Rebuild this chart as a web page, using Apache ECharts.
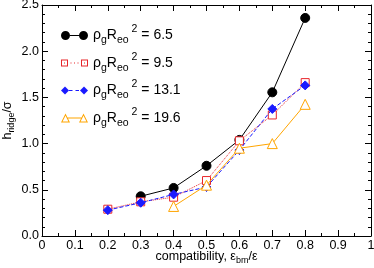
<!DOCTYPE html>
<html><head><meta charset="utf-8">
<script src="https://cdn.jsdelivr.net/npm/echarts@6/dist/echarts.min.js"></script>
<style>html,body{margin:0;padding:0;background:#fff}#c{width:374px;height:268px}</style>
</head><body><div id="c"></div>
<script>
var FONT = '"Liberation Sans", Arial, sans-serif';
var seriesNames = ['6.5', '9.5', '13.1', '19.6'];
var blackX = [0.3, 0.4, 0.5, 0.6, 0.7, 0.8];
var blackY = [0.43, 0.52, 0.76, 1.04, 1.555, 2.36];
var redX = [0.2, 0.3, 0.4, 0.5, 0.6, 0.7, 0.8];
var redY = [0.29, 0.37, 0.42, 0.60, 1.03, 1.31, 1.66];
var blueX = [0.2, 0.3, 0.4, 0.5, 0.6, 0.7, 0.8];
var blueY = [0.28, 0.36, 0.45, 0.53, 0.93, 1.375, 1.63];
var orangeX = [0.4, 0.5, 0.6, 0.7, 0.8];
var orangeY = [0.32, 0.55, 0.95, 1.0, 1.425];
var xTickInterval = 0.1;
var yTickInterval = 0.5;

function pairs(xs, ys) { return xs.map(function (x, i) { return [x, ys[i]]; }); }

var COLORS = ['#000000', '#e8262b', '#1a1aff', '#ffa500'];

// legend icons: marker - line - marker (box 27 x 9)
var PIN = 'M0,0 L0,0 Z M27,9 L27,9 Z ';
var ICONS = [
  'path://' + PIN +
    'M0,4.5 A4.5,4.5 0 1,1 9,4.5 A4.5,4.5 0 1,1 0,4.5 Z ' +
    'M18,4.5 A4.5,4.5 0 1,1 27,4.5 A4.5,4.5 0 1,1 18,4.5 Z ' +
    'M9,4 L18,4 L18,5 L9,5 Z',
  'path://' + PIN +
    'M0,1 L7,1 L7,8 L0,8 Z M1,2 L1,7 L6,7 L6,2 Z ' +
    'M20,1 L27,1 L27,8 L20,8 Z M21,2 L21,7 L26,7 L26,2 Z ' +
    'M3,4 L4,4 L4,5 L3,5 Z M23,4 L24,4 L24,5 L23,5 Z ' +
    'M9.5,4 L10.5,4 L10.5,5 L9.5,5 Z M13,4 L14,4 L14,5 L13,5 Z M16.5,4 L17.5,4 L17.5,5 L16.5,5 Z',
  'path://' + PIN +
    'M4,0.5 L8,4.5 L4,8.5 L0,4.5 Z M23,0.5 L27,4.5 L23,8.5 L19,4.5 Z ' +
    'M8,4 L11.5,4 L11.5,5 L8,5 Z M14.5,4 L18,4 L18,5 L14.5,5 Z',
  'path://' + PIN +
    'M4.5,0 L9,9 L0,9 Z M4.5,2.3 L1.6,8 L7.4,8 Z ' +
    'M22.5,0 L27,9 L18,9 Z M22.5,2.3 L19.6,8 L25.4,8 Z ' +
    'M6.6,4 L20.4,4 L20.4,5 L6.6,5 Z'
];

var chart = echarts.init(document.getElementById('c'), null, {renderer: 'canvas'});
var tickStyle = {color: '#000', width: 1};
function mkX(pos, labels) {
  return {
    type: 'value', position: pos, min: 0, max: 1, interval: xTickInterval,
    axisLine: {show: true, onZero: false, lineStyle: {color: '#000', width: 1}},
    axisTick: {show: true, inside: true, length: 6, lineStyle: tickStyle},
    minorTick: {show: true, splitNumber: 2, length: 3, lineStyle: tickStyle},
    splitLine: {show: false},
    axisLabel: {show: labels, color: '#000', fontSize: 12.5, fontFamily: FONT, margin: 3},
    name: labels ? '{n|compatibility, ε}{s|bm}{n|/ε}' : '',
    nameLocation: 'middle', nameGap: 13, nameMoveOverlap: false,
    nameTextStyle: {rich: {n: {fontSize: 12.5, fontFamily: FONT, color: '#000'},
      s: {fontSize: 9, fontFamily: FONT, color: '#000', padding: [7, 0, 0, 0]}}}
  };
}
function mkY(pos, labels) {
  return {
    type: 'value', position: pos, min: 0, max: 2.5, interval: yTickInterval,
    axisLine: {show: true, onZero: false, lineStyle: {color: '#000', width: 1}},
    axisTick: {show: true, inside: true, length: 6, lineStyle: tickStyle},
    minorTick: {show: true, splitNumber: 5, length: 3, lineStyle: tickStyle},
    splitLine: {show: false},
    axisLabel: {show: labels, color: '#000', fontSize: 12.5, fontFamily: FONT, margin: 3,
      formatter: function (v) { return v.toFixed(1); }},
    name: labels ? '{n|h}{s|ridge}{n|/σ}' : '',
    nameLocation: 'middle', nameGap: 26, nameRotate: 90, nameMoveOverlap: false,
    nameTextStyle: {rich: {n: {fontSize: 12.5, fontFamily: FONT, color: '#000'},
      s: {fontSize: 9, fontFamily: FONT, color: '#000', padding: [7, 0, 0, 0]}}}
  };
}

var legendRich = {
  n: {fontSize: 14, fontFamily: FONT, color: '#000'},
  s: {fontSize: 10.5, fontFamily: FONT, color: '#000', padding: [10, 0, 0, 0]},
  p: {fontSize: 10.5, fontFamily: FONT, color: '#000', padding: [0, 0, 12, 3]}
};

function mkSeries(idx, xs, ys, symbol, size, fill, type) {
  var color = COLORS[idx];
  return {
    name: seriesNames[idx], type: 'line', data: pairs(xs, ys),
    symbol: symbol, symbolSize: size,
    lineStyle: {color: color, width: 1, type: type},
    itemStyle: {color: fill, borderColor: color, borderWidth: 1},
    color: color, z: 2 + idx
  };
}

chart.setOption({
  animation: false,
  backgroundColor: '#fff',
  grid: {left: 42, right: 3, top: 5, bottom: 32, containLabel: false, outerBoundsMode: 'none'},
  xAxis: [mkX('bottom', true), mkX('top', false)],
  yAxis: [mkY('left', true), mkY('right', false)],
  legend: {
    show: true, orient: 'vertical', left: 61, top: 24, itemGap: 5.5, padding: 0,
    itemWidth: 27, itemHeight: 9,
    textStyle: {rich: legendRich},
    data: seriesNames.map(function (n, i) {
      return {name: n, icon: ICONS[i], itemStyle: {color: COLORS[i], borderWidth: 0, opacity: 1}};
    }),
    formatter: function (name) { return '{n|ρ}{s|g}{n|R}{s|eo}{p|2}{n| = ' + name + '}'; }
  },
  series: [
    mkSeries(0, blackX, blackY, 'circle', 9, '#000', 'solid'),
    mkSeries(1, redX, redY, 'rect', 8, '#fff', 'dotted'),
    mkSeries(2, blueX, blueY, 'diamond', 9, COLORS[2], 'dashed'),
    mkSeries(3, orangeX, orangeY, 'triangle', 10, '#fff', 'solid')
  ]
});
</script></body></html>
